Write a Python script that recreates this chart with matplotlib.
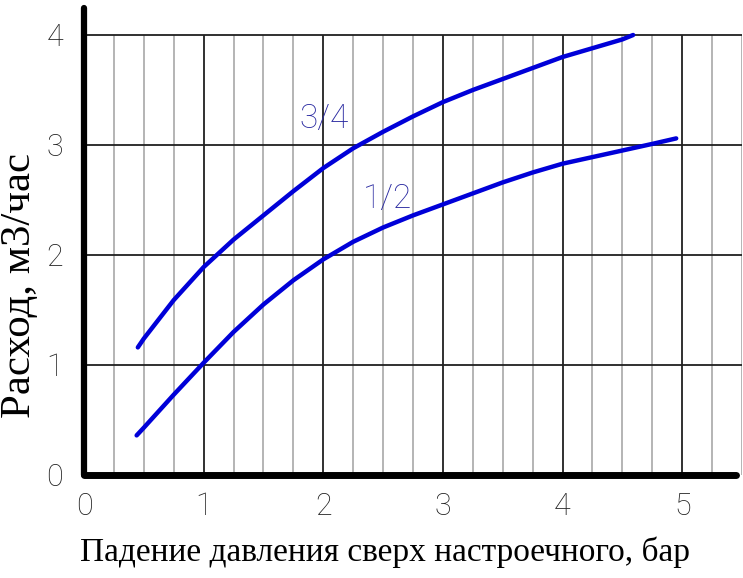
import matplotlib
matplotlib.use("Agg")
import matplotlib.pyplot as plt
import numpy as np

# curve for 3/4" valve
dp_34 = [0.45, 0.5, 0.75, 1.0, 1.25, 1.5, 1.75, 2.0, 2.25, 2.5, 2.75, 3.0, 3.25, 3.5, 3.75, 4.0, 4.25, 4.5, 4.59]
q_34 = [1.16, 1.24, 1.59, 1.89, 2.14, 2.36, 2.58, 2.79, 2.97, 3.12, 3.26, 3.39, 3.5, 3.6, 3.7, 3.8, 3.88, 3.96, 4.0]

# curve for 1/2" valve
dp_12 = [0.44, 0.5, 0.75, 1.0, 1.25, 1.5, 1.75, 2.0, 2.25, 2.5, 2.75, 3.0, 3.25, 3.5, 3.75, 4.0, 4.25, 4.5, 4.75, 4.95]
q_12 = [0.36, 0.43, 0.73, 1.02, 1.3, 1.55, 1.77, 1.96, 2.12, 2.25, 2.36, 2.46, 2.56, 2.66, 2.75, 2.83, 2.89, 2.95, 3.01, 3.06]

x_ticks = [0, 1, 2, 3, 4, 5]
y_ticks = [0, 1, 2, 3, 4]
curve_labels = ["3/4", "1/2"]

fig = plt.figure(figsize=(7.43, 5.78), dpi=100)
ax = fig.add_axes([84 / 743, 103 / 578, 658 / 743, 467.5 / 578])
ax.set_xlim(0, 5.5)
ax.set_ylim(0, 4.25)

# grid, only inside 0..4 in y
minor = [v for v in np.arange(0.25, 5.51, 0.25) if abs(v - round(v)) > 1e-6]
ax.vlines(minor, 0, 4, colors="#a8a8a8", linewidth=1.2, zorder=1)
ax.vlines(x_ticks[1:], 0, 4, colors="#202020", linewidth=1.3, zorder=1)
for y in y_ticks[1:]:
    ax.axhline(y, color="#202020", linewidth=1.3, zorder=1)

ax.plot(dp_34, q_34, color="#0000d8", linewidth=3.2, solid_capstyle="round",
        solid_joinstyle="round", zorder=3)
ax.plot(dp_12, q_12, color="#0000d8", linewidth=3.2, solid_capstyle="round",
        solid_joinstyle="round", zorder=3)

thin = ["Roboto", "DejaVu Sans"]
lbl_font = dict(family=thin, fontweight="light", fontsize=24, color="#2828a0")
ax.text(dp_34[7] + 0.01, q_34[7] + 0.30, curve_labels[0], ha="center", va="bottom", **lbl_font)
ax.text(dp_12[9] + 0.04, q_12[9] + 0.11, curve_labels[1], ha="center", va="bottom", **lbl_font)

for s in ["top", "right"]:
    ax.spines[s].set_visible(False)
ax.spines["left"].set_linewidth(4.5)
ax.spines["bottom"].set_linewidth(5)
ax.spines["bottom"].set_bounds(0, 5.45)
ax.spines["left"].set_capstyle("round")
ax.spines["bottom"].set_capstyle("round")

ax.set_xticks(x_ticks)
ax.set_yticks(y_ticks)
ax.set_xticklabels([str(v) for v in x_ticks], family=thin, fontweight="light", fontsize=22, color="#202020")
ax.set_yticklabels([str(v) for v in y_ticks], family=thin, fontweight="light", fontsize=22, color="#202020")
ax.tick_params(axis="both", length=0)
ax.tick_params(axis="x", pad=12)
ax.tick_params(axis="y", pad=15)

ax.set_xlabel("Падение давления сверх настроечного, бар", family=["Liberation Serif"],
              fontsize=24, va="center")
ax.xaxis.set_label_coords(0.457, -0.165)
ax.set_ylabel("Расход, м3/час", family=["Liberation Serif"], fontsize=31, va="center")
ax.yaxis.set_label_coords(-0.097, 0.406)

fig.savefig("out.png", dpi=100)
